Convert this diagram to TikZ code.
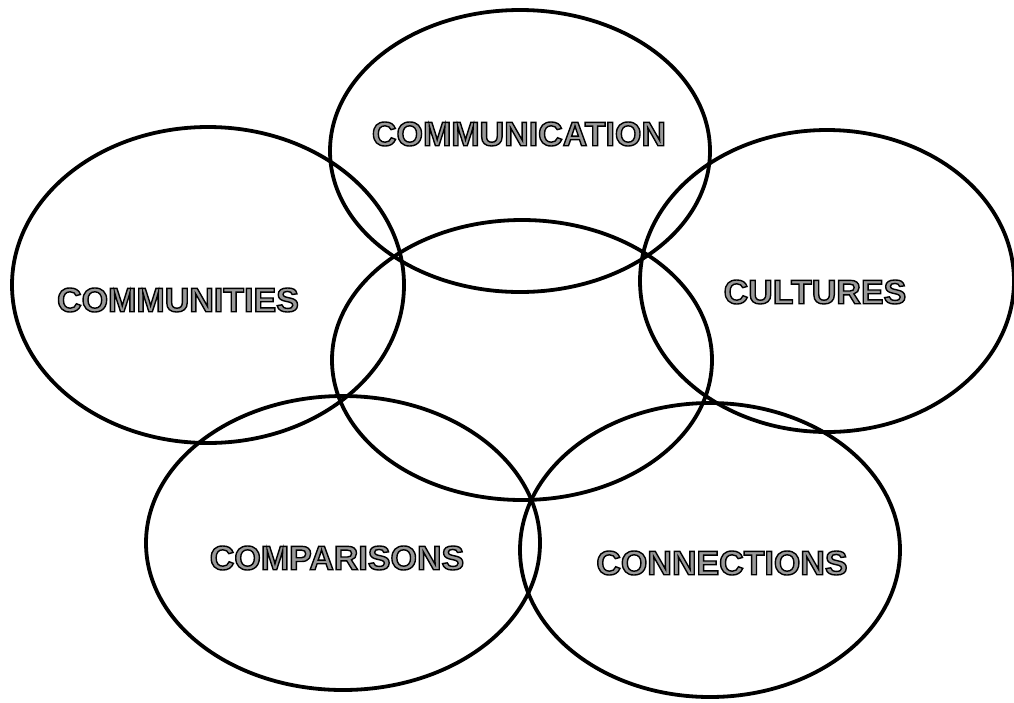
\documentclass[tikz,border=0pt]{standalone}
\usepackage{fontspec}
\setmainfont{Liberation Sans}
\usetikzlibrary{shapes.geometric}
\newcommand{\outl}[1]{\special{pdf:literal 2 Tr 1.4 w 0 0 0 RG}#1\special{pdf:literal 0 Tr}}
\begin{document}
\begin{tikzpicture}[x=1pt,y=-1pt,
  ring/.style={draw=black,line width=3.8pt,ellipse,inner sep=0pt,outer sep=0pt},
  lbl/.style={font=\fontsize{34}{34}\selectfont\bfseries,text=black!40,inner sep=0pt}]
\useasboundingbox (0,0) rectangle (1014,702);
\node[ring,minimum width=380pt,minimum height=282pt] (e1) at (520,151) {};
\node[ring,minimum width=392pt,minimum height=316pt] (e2) at (208,285) {};
\node[ring,minimum width=374pt,minimum height=302pt] (e3) at (827,281) {};
\node[ring,minimum width=380pt,minimum height=280pt] (e4) at (522,360) {};
\node[ring,minimum width=394pt,minimum height=294pt] (e5) at (343,543) {};
\node[ring,minimum width=380pt,minimum height=294pt] (e6) at (710,550) {};
\node[lbl] (comm) at (519,134) {\outl{COMMUNICATION}};
\node[lbl] (cmty) at (178,300) {\outl{COMMUNITIES}};
\node[lbl] (cult) at (815,292) {\outl{CULTURES}};
\node[lbl] (comp) at (337,558) {\outl{COMPARISONS}};
\node[lbl] (conn) at (722,563) {\outl{CONNECTIONS}};
\end{tikzpicture}
\end{document}
